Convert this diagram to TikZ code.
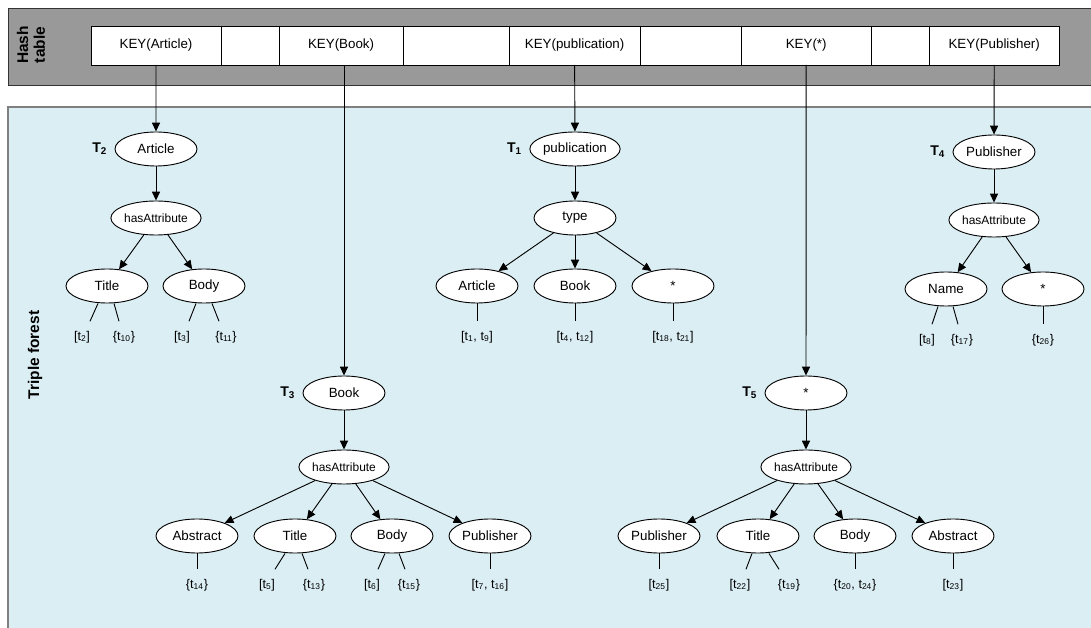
\documentclass[tikz,border=0pt]{standalone}
\usepackage{fontspec}
\setmainfont{Liberation Sans}
\usetikzlibrary{arrows.meta, positioning, shapes.geometric, calc}
\definecolor{bandGray}{RGB}{153,153,153}
\definecolor{forestBlue}{RGB}{219,238,244}
\tikzset{
  term/.style = {
    draw,
    fill=white,
    ellipse,
    minimum width=2.05cm,
    minimum height=0.85cm,
    inner sep=0pt,
    font=\fontsize{9.5}{11}\selectfont,
  },
  attr/.style = {
    term,
    font=\fontsize{8.5}{10}\selectfont,
  },
  keyCell/.style = {
    draw,
    fill=white,
    rectangle,
    minimum height=0.975cm,
    inner sep=0pt,
    outer sep=0pt,
    font=\fontsize{9.5}{11}\selectfont,
  },
  leaf/.style = {
    inner sep=1pt,
    outer sep=6pt,
    font=\fontsize{9}{10}\selectfont,
  },
  treeName/.style = {
    font=\fontsize{10}{12}\selectfont\bfseries,
    inner sep=0pt,
  },
  has/.style = {
    -{Triangle[length=2.2mm, width=2mm]},
  },
}
\newcommand{\leafLine}[4]{\draw ($(#1.south)+(#2,0)$) -- ($(#3.north)+(#4,0)$);}

\begin{document}
\begin{tikzpicture}[
  x=0.025cm,
  y=-0.025cm,
  line width=0.65pt,
  node distance=0pt,
  sideText/.style = {
    rotate=90,
    align=center,
    font=\fontsize{11}{12}\selectfont\bfseries,
  },
]
\useasboundingbox (0,0) rectangle (1091,628);

% hash table band and forest area
\fill[bandGray] (8,8) rectangle (1100,85);
\draw[black!80] (1100,8) -- (8,8) -- (8,85) -- (1100,85);
\fill[forestBlue] (8,107) rectangle (1100,640);
\draw[black!50, line width=1.2pt] (1100,107) -- (8,107) -- (8,640);

\node(HashLabel)[sideText] at (31,45) {Hash\\table};
\node(ForestLabel)[sideText] at (35,355) {Triple forest};

\node(kArticle)[keyCell, minimum width=3.25cm, anchor=west] at (91,45.5) {KEY(Article)};
\node(kGap1)[keyCell, minimum width=1.45cm, right=of kArticle] {};
\node(kBook)[keyCell, minimum width=3.1cm, right=of kGap1] {KEY(Book)};
\node(kGap2)[keyCell, minimum width=2.65cm, right=of kBook] {};
\node(kPub)[keyCell, minimum width=3.275cm, right=of kGap2] {KEY(publication)};
\node(kGap3)[keyCell, minimum width=2.525cm, right=of kPub] {};
\node(kAny)[keyCell, minimum width=3.25cm, right=of kGap3] {KEY(*)};
\node(kGap4)[keyCell, minimum width=1.45cm, right=of kAny] {};
\node(kPublisher)[keyCell, minimum width=3.25cm, right=of kGap4] {KEY(Publisher)};

% T2
\node(T2Article)[term] at (156,149) {Article};
\node(T2Label)[treeName, left=5pt of T2Article] {T\textsubscript{2}};
\node(T2Has)[attr] at (156,218) {hasAttribute};
\node(T2Title)[term] at (107,286) {Title};
\node(T2Body)[term] at (204,286) {Body};
\node(T2t2)[leaf] at (82,337) {[t\textsubscript{2}]};
\node(T2t10)[leaf] at (124,337) {\{t\textsubscript{10}\}};
\node(T2t3)[leaf] at (182,337) {[t\textsubscript{3}]};
\node(T2t11)[leaf] at (226,337) {\{t\textsubscript{11}\}};
\draw[has] (kArticle.south) -- (T2Article);
\draw[has] (T2Article) -- (T2Has);
\draw[has] (T2Has) -- (T2Title);
\draw[has] (T2Has) -- (T2Body);
\leafLine{T2Title}{-9}{T2t2}{8}
\leafLine{T2Title}{7}{T2t10}{-5}
\leafLine{T2Body}{-8}{T2t3}{7}
\leafLine{T2Body}{8}{T2t11}{-7}

% T1
\node(T1Pub)[term] at (575,149) {publication};
\node(T1Label)[treeName, left=5pt of T1Pub] {T\textsubscript{1}};
\node(T1Type)[term] at (575,218) {type};
\node(T1Article)[term] at (477,286) {Article};
\node(T1Book)[term] at (575,286) {Book};
\node(T1Any)[term] at (673,286) {*};
\node(T1t1)[leaf] at (477,337) {[t\textsubscript{1}, t\textsubscript{9}]};
\node(T1t4)[leaf] at (575,337) {[t\textsubscript{4}, t\textsubscript{12}]};
\node(T1t18)[leaf] at (673,337) {[t\textsubscript{18}, t\textsubscript{21}]};
\draw[has] (kPub.south) -- (T1Pub);
\draw[has] (T1Pub) -- (T1Type);
\draw[has] (T1Type) -- (T1Article);
\draw[has] (T1Type) -- (T1Book);
\draw[has] (T1Type) -- (T1Any);
\draw (T1Article.south) -- (T1t1.north);
\draw (T1Book.south) -- (T1t4.north);
\draw (T1Any.south) -- (T1t18.north);

% T4
\node(T4Publisher)[term] at (994,152) {Publisher};
\node(T4Label)[treeName, left=5pt of T4Publisher] {T\textsubscript{4}};
\node(T4Has)[attr] at (994,220) {hasAttribute};
\node(T4Name)[term] at (946,289) {Name};
\node(T4Any)[term] at (1043,289) {*};
\node(T4t8)[leaf] at (927,340) {[t\textsubscript{8}]};
\node(T4t17)[leaf] at (962,340) {\{t\textsubscript{17}\}};
\node(T4t26)[leaf] at (1043,340) {\{t\textsubscript{26}\}};
\draw[has] (kPublisher.south) -- (T4Publisher);
\draw[has] (T4Publisher) -- (T4Has);
\draw[has] (T4Has) -- (T4Name);
\draw[has] (T4Has) -- (T4Any);
\leafLine{T4Name}{-8}{T4t8}{5}
\leafLine{T4Name}{7}{T4t17}{-4}
\draw (T4Any.south) -- (T4t26.north);

% T3
\node(T3Book)[term] at (344,393) {Book};
\node(T3Label)[treeName, left=5pt of T3Book] {T\textsubscript{3}};
\node(T3Has)[attr] at (344,467) {hasAttribute};
\node(T3Abstract)[term] at (197,536) {Abstract};
\node(T3Title)[term] at (295,536) {Title};
\node(T3Body)[term] at (392,536) {Body};
\node(T3Publisher)[term] at (490,536) {Publisher};
\node(T3t14)[leaf] at (197,585) {\{t\textsubscript{14}\}};
\node(T3t5)[leaf] at (267,585) {[t\textsubscript{5}]};
\node(T3t13)[leaf] at (314,585) {\{t\textsubscript{13}\}};
\node(T3t6)[leaf] at (372,585) {[t\textsubscript{6}]};
\node(T3t15)[leaf] at (409,585) {\{t\textsubscript{15}\}};
\node(T3t7)[leaf] at (490,585) {[t\textsubscript{7}, t\textsubscript{16}]};
\draw[has] (T3Book.north |- kBook.south) -- (T3Book);
\draw[has] (T3Book) -- (T3Has);
\draw[has] (T3Has) -- (T3Abstract);
\draw[has] (T3Has) -- (T3Title);
\draw[has] (T3Has) -- (T3Body);
\draw[has] (T3Has) -- (T3Publisher);
\draw (T3Abstract.south) -- (T3t14.north);
\leafLine{T3Title}{-10}{T3t5}{8}
\leafLine{T3Title}{7}{T3t13}{-6}
\leafLine{T3Body}{-7}{T3t6}{6}
\leafLine{T3Body}{7}{T3t15}{-4}
\draw (T3Publisher.south) -- (T3t7.north);

% T5
\node(T5Any)[term] at (806,393) {*};
\node(T5Label)[treeName, left=5pt of T5Any] {T\textsubscript{5}};
\node(T5Has)[attr] at (806,467) {hasAttribute};
\node(T5Publisher)[term] at (659,536) {Publisher};
\node(T5Title)[term] at (758,536) {Title};
\node(T5Body)[term] at (855,536) {Body};
\node(T5Abstract)[term] at (953,536) {Abstract};
\node(T5t25)[leaf] at (659,585) {[t\textsubscript{25}]};
\node(T5t22)[leaf] at (740,585) {[t\textsubscript{22}]};
\node(T5t19)[leaf] at (789,585) {\{t\textsubscript{19}\}};
\node(T5t20)[leaf] at (855,585) {\{t\textsubscript{20}, t\textsubscript{24}\}};
\node(T5t23)[leaf] at (953,585) {[t\textsubscript{23}]};
\draw[has] (kAny.south) -- (T5Any);
\draw[has] (T5Any) -- (T5Has);
\draw[has] (T5Has) -- (T5Publisher);
\draw[has] (T5Has) -- (T5Title);
\draw[has] (T5Has) -- (T5Body);
\draw[has] (T5Has) -- (T5Abstract);
\draw (T5Publisher.south) -- (T5t25.north);
\leafLine{T5Title}{-6}{T5t22}{6}
\leafLine{T5Title}{11}{T5t19}{-10}
\draw (T5Body.south) -- (T5t20.north);
\draw (T5Abstract.south) -- (T5t23.north);

\end{tikzpicture}
\end{document}
